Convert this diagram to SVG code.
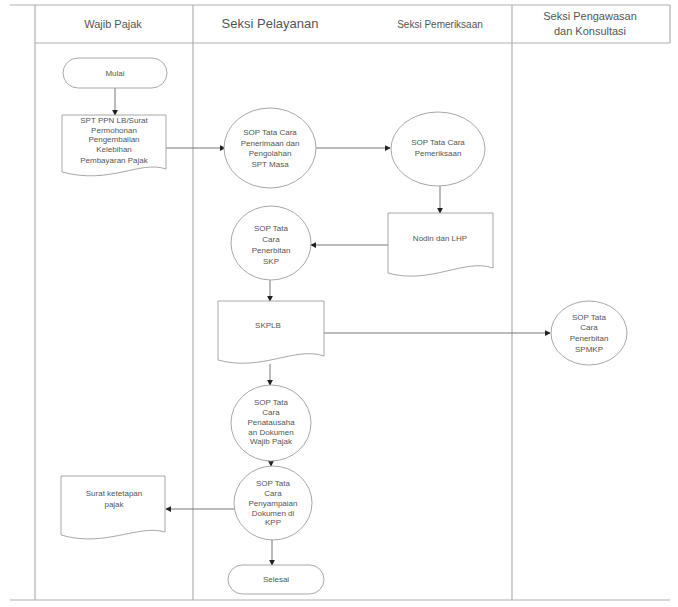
<svg xmlns="http://www.w3.org/2000/svg" width="678" height="607" viewBox="0 0 678 607">
<style>
.lane{stroke:#b0b0b0;stroke-width:1.2;fill:none}
.hd{font-family:"Liberation Sans",Arial,sans-serif;fill:#555;text-anchor:middle}
.shape{fill:#fff;stroke:#a8a8a8;stroke-width:1}
.t{font-family:"Liberation Sans",Arial,sans-serif;font-size:8px;fill:#555;text-anchor:middle}
.edge{stroke:#777;stroke-width:1;fill:none;marker-end:url(#ah)}
</style>
<defs>
<marker id="ah" viewBox="0 0 8 8" refX="7" refY="4" markerWidth="6" markerHeight="6" orient="auto" markerUnits="userSpaceOnUse">
<path d="M0,0 L8,4 L0,8 Z" fill="#222"/>
</marker>
</defs>
<rect width="678" height="607" fill="#fff"/>
<g id="lanes">
<line class="lane" x1="10" y1="5" x2="670" y2="5"/>
<line class="lane" x1="35" y1="43" x2="670" y2="43"/>
<line class="lane" x1="10" y1="600" x2="670" y2="600"/>
<line class="lane" x1="35" y1="5" x2="35" y2="600"/>
<line class="lane" x1="193" y1="5" x2="193" y2="600"/>
<line class="lane" x1="512" y1="5" x2="512" y2="600"/>
<line class="lane" x1="670" y1="5" x2="670" y2="43"/>
<text class="hd" x="113" y="28" font-size="11">Wajib Pajak</text>
<text class="hd" x="270" y="28" font-size="13">Seksi Pelayanan</text>
<text class="hd" x="440" y="28" font-size="10">Seksi Pemeriksaan</text>
<text class="hd" x="590" y="20" font-size="11">Seksi Pengawasan</text>
<text class="hd" x="590" y="35" font-size="11">dan Konsultasi</text>
</g>
<g id="connectors">
<line class="edge" x1="115" y1="88" x2="115" y2="115"/>
<line class="edge" x1="166" y1="148" x2="225" y2="148"/>
<line class="edge" x1="316" y1="148" x2="390" y2="148"/>
<line class="edge" x1="440" y1="186" x2="440" y2="213"/>
<line class="edge" x1="388" y1="245" x2="311" y2="245"/>
<line class="edge" x1="270" y1="280" x2="270" y2="301"/>
<line class="edge" x1="324" y1="333" x2="550" y2="333"/>
<line class="edge" x1="270" y1="364" x2="270" y2="385"/>
<line class="edge" x1="271" y1="461" x2="271" y2="466"/>
<line class="edge" x1="234" y1="509" x2="166" y2="509"/>
<line class="edge" x1="272" y1="540" x2="272" y2="565"/>
</g>
<g id="mulai">
<rect class="shape" x="63" y="58" width="104" height="30" rx="15"/>
<text class="t" x="115" y="76">Mulai</text>
</g>
<g id="spt">
<path class="shape" d="M62,115 H166 V169 C140,160 110,185 62,172 Z"/>
<text class="t" x="114" y="123">SPT PPN LB/Surat</text>
<text class="t" x="114" y="133">Permohonan</text>
<text class="t" x="114" y="142">Pengembalian</text>
<text class="t" x="114" y="152">Kelebihan</text>
<text class="t" x="114" y="163">Pembayaran Pajak</text>
</g>
<g id="sop-penerimaan">
<ellipse class="shape" cx="270" cy="148" rx="46" ry="40"/>
<text class="t" x="270" y="135">SOP Tata Cara</text>
<text class="t" x="270" y="146">Penerimaan dan</text>
<text class="t" x="270" y="156">Pengolahan</text>
<text class="t" x="270" y="167">SPT Masa</text>
</g>
<g id="sop-pemeriksaan">
<ellipse class="shape" cx="438" cy="149" rx="47" ry="37"/>
<text class="t" x="438" y="145">SOP Tata Cara</text>
<text class="t" x="438" y="156">Pemeriksaan</text>
</g>
<g id="nodin">
<path class="shape" d="M388,213 H493 V268 C465,258 430,285 388,273 Z"/>
<text class="t" x="440" y="241">Nodin dan LHP</text>
</g>
<g id="sop-skp">
<ellipse class="shape" cx="271" cy="243" rx="40" ry="37"/>
<text class="t" x="271" y="231">SOP Tata</text>
<text class="t" x="271" y="242">Cara</text>
<text class="t" x="271" y="253">Penerbitan</text>
<text class="t" x="271" y="264">SKP</text>
</g>
<g id="skplb">
<path class="shape" d="M218,301 H324 V356 C295,346 262,372 218,360 Z"/>
<text class="t" x="268" y="328">SKPLB</text>
</g>
<g id="sop-spmkp">
<ellipse class="shape" cx="589" cy="333" rx="38" ry="32"/>
<text class="t" x="589" y="320">SOP Tata</text>
<text class="t" x="589" y="330">Cara</text>
<text class="t" x="589" y="341">Penerbitan</text>
<text class="t" x="589" y="352">SPMKP</text>
</g>
<g id="sop-penatausahaan">
<ellipse class="shape" cx="271" cy="423" rx="40" ry="38"/>
<text class="t" x="271" y="405">SOP Tata</text>
<text class="t" x="271" y="415">Cara</text>
<text class="t" x="271" y="425">Penatausaha</text>
<text class="t" x="271" y="435">an Dokumen</text>
<text class="t" x="271" y="444">Wajib Pajak</text>
</g>
<g id="sop-penyampaian">
<ellipse class="shape" cx="273" cy="503" rx="39" ry="37"/>
<text class="t" x="273" y="486">SOP Tata</text>
<text class="t" x="273" y="496">Cara</text>
<text class="t" x="273" y="506">Penyampaian</text>
<text class="t" x="273" y="516">Dokumen di</text>
<text class="t" x="273" y="525">KPP</text>
</g>
<g id="surat">
<path class="shape" d="M61,476 H165 V532 C138,524 105,548 61,535 Z"/>
<text class="t" x="114" y="496">Surat ketetapan</text>
<text class="t" x="114" y="507">pajak</text>
</g>
<g id="selesai">
<rect class="shape" x="228" y="565" width="96" height="29" rx="14.5"/>
<text class="t" x="276" y="582">Selesai</text>
</g>
</svg>
